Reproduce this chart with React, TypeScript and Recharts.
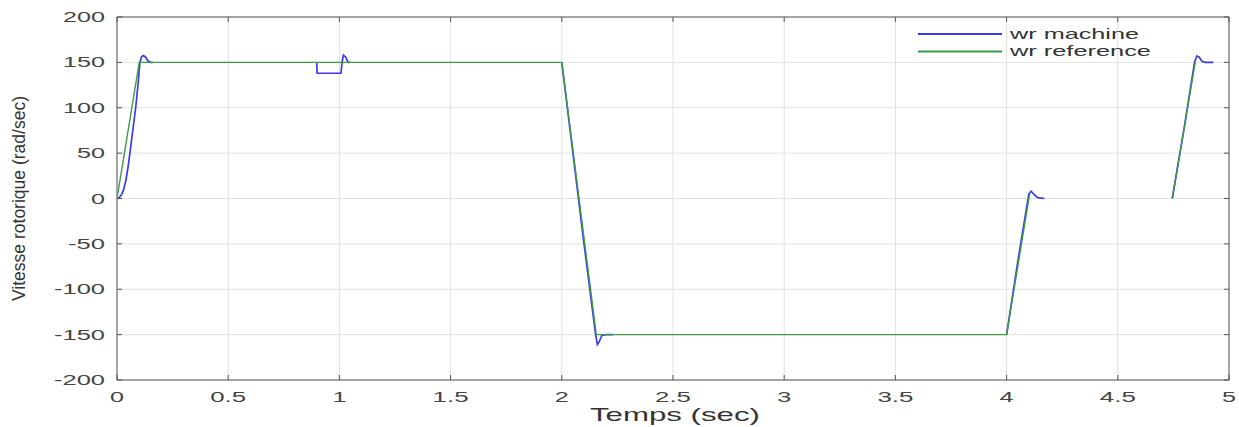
import { LineChart, Line, XAxis, YAxis, CartesianGrid, ReferenceLine, Legend } from "recharts";

// wr machine (blue) – null splits the trace where it is hidden
const machineTime = [
  0, 0.01, 0.02, 0.03, 0.04, 0.05, 0.058, 0.07, 0.084, 0.095, 0.103, 0.11, 0.118, 0.128, 0.138, 0.15, 0.16, 0.5,
  0.898, 0.9, 0.95, 1.007, 1.012, 1.018, 1.028, 1.039, 1.048, 1.5,
  2.0, 2.05, 2.1, 2.152, 2.16, 2.168, 2.18, 2.2, 2.23, 3.0,
  4.0, 4.05, 4.1, 4.11, 4.125, 4.14, 4.17, 4.5,
  4.745, 4.8, 4.845, 4.855, 4.865, 4.88, 4.895, 4.93,
];
const machineSpeed = [
  0, 1, 4, 10, 20, 35, 50, 73, 100, 127, 150, 156, 157.5, 156, 152, 150, 150, null,
  150, 138, 138, 138, 150, 158, 156, 150, 150, null,
  150, 50, -50, -150, -161, -158, -151, -150, -150, null,
  -150, -70, 5, 8, 4, 1, 0, null,
  0, 80, 150, 157, 156, 151, 150, 150,
];

// wr reference (green)
const refTime = [0, 0.1, 2.0, 2.155, 4.0, 4.105, 4.4, 4.745, 4.848];
const refSpeed = [0, 150, 150, -150, -150, 7, null, 0, 150];

const xTicks = [0, 0.5, 1, 1.5, 2, 2.5, 3, 3.5, 4, 4.5, 5];
const yTicks = [-200, -150, -100, -50, 0, 50, 100, 150, 200];

const machineData = machineTime.map((t, i) => ({ t, v: machineSpeed[i] }));
const refData = refTime.map((t, i) => ({ t, v: refSpeed[i] }));

const W = 1239;
const H = 427;
const M = { top: 17, right: 10, left: 0, bottom: 0 };
const Y_W = 117;
const X_H = 47;
const PLOT_W = W - Y_W - M.right;
const PLOT_H = H - M.top - X_H;

const BLUE = "#3a3af0";
const GREEN = "#3e9a44";
const FRAME = "#8a8a8a";
const FONT = "Liberation Sans, Arial, sans-serif";
const tickFont = { fontFamily: FONT, fontSize: 15, fill: "#444" };

// the original figure is stretched sideways, so text gets a fixed width per glyph
function stretchedWidth(s: string) {
  let w = 0;
  for (const c of s) w += c === "." ? 8 : c === "-" ? 9 : 14;
  return w;
}

function XTick({ x, y, payload }: any) {
  const axisY = y - 8;
  const s = String(payload.value);
  return (
    <g>
      <line x1={x} x2={x} y1={axisY} y2={axisY - 5} stroke="#555" />
      <line x1={x} x2={x} y1={axisY - PLOT_H} y2={axisY - PLOT_H + 5} stroke="#555" />
      <text x={x} y={y} dy={14} textAnchor="middle" textLength={stretchedWidth(s)} lengthAdjust="spacingAndGlyphs" style={tickFont}>
        {s}
      </text>
    </g>
  );
}

function YTick({ x, y, payload }: any) {
  const axisX = x + 12;
  const s = String(payload.value);
  return (
    <g>
      <line x1={axisX} x2={axisX + 5} y1={y} y2={y} stroke="#555" />
      <line x1={axisX + PLOT_W} x2={axisX + PLOT_W - 5} y1={y} y2={y} stroke="#555" />
      <text x={x} y={y} dy={5} textAnchor="end" textLength={stretchedWidth(s)} lengthAdjust="spacingAndGlyphs" style={tickFont}>
        {s}
      </text>
    </g>
  );
}

function LegendBox() {
  const rows = [
    { label: "wr machine", color: BLUE, len: 129 },
    { label: "wr reference", color: GREEN, len: 141 },
  ];
  return (
    <svg width={260} height={40}>
      {rows.map((r, i) => (
        <g key={r.label}>
          <line x1={3} x2={87} y1={9 + i * 17.5} y2={9 + i * 17.5} stroke={r.color} strokeWidth={2} />
          <text
            x={95}
            y={13.5 + i * 17.5}
            textLength={r.len}
            lengthAdjust="spacingAndGlyphs"
            style={{ fontFamily: FONT, fontSize: 15, fill: "#333" }}
          >
            {r.label}
          </text>
        </g>
      ))}
    </svg>
  );
}

export default function App() {
  return (
    <div style={{ position: "absolute", left: 0, top: 0, width: W, height: H, background: "#fff" }}>
      <LineChart width={W} height={H} margin={M}>
        <CartesianGrid stroke="#e2e2e2" strokeWidth={1} />
        <XAxis
          dataKey="t"
          type="number"
          domain={[0, 5]}
          ticks={xTicks}
          allowDataOverflow
          height={X_H}
          tickSize={0}
          tickMargin={8}
          tickLine={false}
          axisLine={{ stroke: FRAME, strokeWidth: 1.5 }}
          tick={<XTick />}
          label={(p: any) => {
            const vb = p.viewBox;
            return (
              <text
                x={vb.x + vb.width / 2 + 2}
                y={vb.y + 41}
                textAnchor="middle"
                textLength={170}
                lengthAdjust="spacingAndGlyphs"
                style={{ fontFamily: FONT, fontSize: 19, fill: "#333" }}
              >
                Temps (sec)
              </text>
            );
          }}
        />
        <YAxis
          type="number"
          domain={[-200, 200]}
          ticks={yTicks}
          allowDataOverflow
          width={Y_W}
          tickSize={0}
          tickMargin={12}
          tickLine={false}
          axisLine={{ stroke: FRAME, strokeWidth: 1.5 }}
          tick={<YTick />}
          label={(p: any) => {
            const vb = p.viewBox;
            const cx = 25;
            const cy = vb.y + vb.height / 2;
            return (
              <text
                x={cx}
                y={cy}
                textAnchor="middle"
                textLength={205}
                lengthAdjust="spacingAndGlyphs"
                transform={`rotate(-90 ${cx} ${cy})`}
                style={{ fontFamily: FONT, fontSize: 19, fill: "#333" }}
              >
                Vitesse rotorique (rad/sec)
              </text>
            );
          }}
        />
        <ReferenceLine y={200} stroke={FRAME} strokeWidth={1.5} />
        <ReferenceLine x={5} stroke={FRAME} strokeWidth={1.5} />
        <Legend
          layout="horizontal"
          verticalAlign="middle"
          align="center"
          wrapperStyle={{ top: 25, left: 915, width: 260, height: 40 }}
          content={() => <LegendBox />}
        />
        <Line
          data={machineData}
          dataKey="v"
          type="linear"
          stroke={BLUE}
          strokeWidth={1.7}
          dot={false}
          activeDot={false}
          connectNulls={false}
          isAnimationActive={false}
        />
        <Line
          data={refData}
          dataKey="v"
          type="linear"
          stroke={GREEN}
          strokeWidth={1.4}
          dot={false}
          activeDot={false}
          connectNulls={false}
          isAnimationActive={false}
        />
      </LineChart>
    </div>
  );
}
